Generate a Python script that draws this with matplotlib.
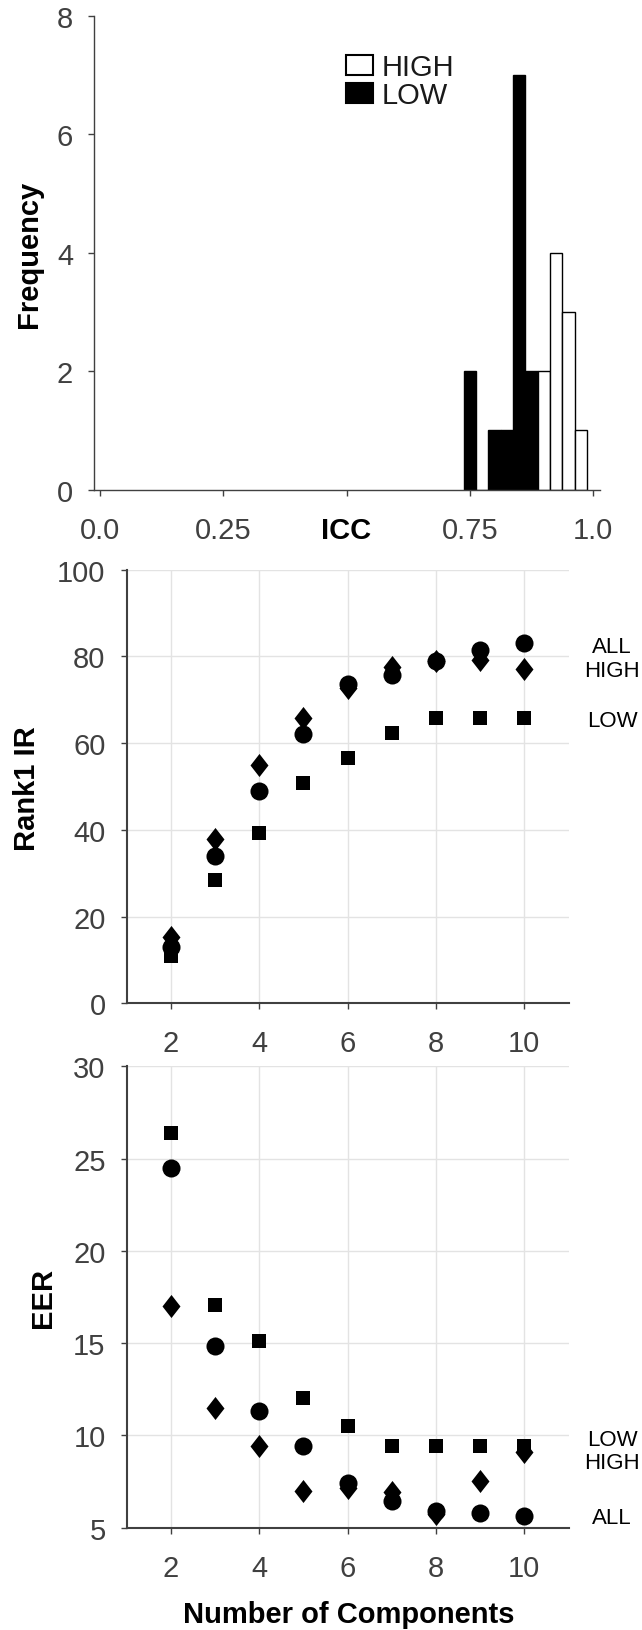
import matplotlib
matplotlib.use("Agg")
import matplotlib.pyplot as plt
from matplotlib.patches import Patch
from matplotlib.path import Path
import matplotlib.transforms as mtransforms

plt.rcParams['font.family'] = ['Liberation Sans', 'DejaVu Sans']

# ---------------- data ----------------
icc_ticks = [0.0, 0.25, 0.5, 0.75, 1.0]
icc_ticklabels = ["0.0", "0.25", "ICC", "0.75", "1.0"]
freq_ticks = [0, 2, 4, 6, 8]
bin_width = 0.025
low_centers = [0.75, 0.775, 0.80, 0.825, 0.85, 0.875]
low_counts = [2, 0, 1, 1, 7, 2]
high_centers = [0.90, 0.925, 0.95, 0.975]
high_counts = [2, 4, 3, 1]

n_components = [2, 3, 4, 5, 6, 7, 8, 9, 10]
rank1_all = [12.9, 34.0, 49.0, 62.2, 73.7, 75.6, 79.0, 81.5, 83.0]
rank1_high = [15.3, 37.8, 54.9, 65.9, 72.8, 77.5, 78.9, 79.2, 77.2]
rank1_low = [11.0, 28.4, 39.3, 50.8, 56.5, 62.4, 65.8, 65.8, 65.8]

eer_all = [24.5, 14.85, 11.32, 9.41, 7.42, 6.44, 5.88, 5.78, 5.62]
eer_high = [17.0, 11.47, 9.41, 6.99, 7.16, 6.95, 5.75, 7.53, 9.12]
eer_low = [26.39, 17.05, 15.12, 12.04, 10.5, 9.4, 9.4, 9.4, 9.4]

x_ticks = [2, 4, 6, 8, 10]
rank_ticks = [0, 20, 40, 60, 80, 100]
eer_ticks = [5, 10, 15, 20, 25, 30]

# ---------------- style ----------------
W, H = 642, 1631
fig = plt.figure(figsize=(W / 100, H / 100), dpi=100)
GRAY = '#404040'
TICKFS = 21
LABFS = 21

def px_axes(left, top, right, bottom):
    return fig.add_axes([left / W, 1 - bottom / H, (right - left) / W, (bottom - top) / H])

def style(ax, lw):
    for s in ['top', 'right']:
        ax.spines[s].set_visible(False)
    for s in ['left', 'bottom']:
        ax.spines[s].set_color(GRAY)
        ax.spines[s].set_linewidth(lw)
    ax.tick_params(axis='both', direction='out', length=4.3, width=1.0,
                   color=GRAY, labelcolor=GRAY, labelsize=TICKFS)
    ax.tick_params(axis='x', pad=14.5)
    ax.tick_params(axis='y', pad=11)

# ---------------- top: histogram ----------------
ax1 = px_axes(94.3, 16.7, 600, 490.7)
ax1.bar(low_centers, low_counts, width=bin_width, color='black', edgecolor='black', linewidth=1.0, zorder=2)
ax1.bar(high_centers, high_counts, width=bin_width, color='white', edgecolor='black', linewidth=1.0, zorder=2)
ax1.set_xlim(-0.0116, 1.0142)
ax1.set_ylim(0, 8)
style(ax1, 1.0)
ax1.set_xticks(icc_ticks)
ax1.set_xticklabels(icc_ticklabels)
ax1.set_yticks(freq_ticks)
lab = ax1.get_xticklabels()[2]
lab.set_fontweight('bold')
lab.set_color('black')
handles = [Patch(facecolor='white', edgecolor='black', linewidth=1.5),
           Patch(facecolor='black', edgecolor='black', linewidth=1.5)]
leg = ax1.legend(handles, ['HIGH', 'LOW'], loc='upper left', bbox_to_anchor=(0.498, 0.921),
                 frameon=False, fontsize=21, handlelength=0.91, handleheight=0.65,
                 handletextpad=0.3, labelspacing=0.0, borderpad=0, borderaxespad=0)
for t in leg.get_texts():
    t.set_color('#1a1a1a')

fig.text(29 / W, 1 - 254 / H, 'Frequency', rotation=90, ha='center', va='center',
         fontsize=LABFS, fontweight='bold', color='black')

# ---------------- marker shapes ----------------
diamond = Path([(0, 1), (0.78, 0), (0, -1), (-0.78, 0), (0, 1)],
               [Path.MOVETO, Path.LINETO, Path.LINETO, Path.LINETO, Path.CLOSEPOLY])

def scatter_panel(ax, low, high, allv):
    ax.plot(n_components, low, linestyle='none', marker='s', markersize=10.4,
            color='black', markeredgewidth=0, zorder=3)
    ax.plot(n_components, high, linestyle='none', marker=diamond, markersize=16.6,
            color='black', markeredgewidth=0, zorder=4)
    ax.plot(n_components, allv, linestyle='none', marker='o', markersize=13,
            color='black', markeredgewidth=0, zorder=5)
    ax.set_xlim(1, 11)
    ax.set_xticks(x_ticks)
    ax.grid(True, color='#e3e3e3', linewidth=1.0, zorder=0)
    ax.set_axisbelow(True)

def side_labels(ax, labels, ys):
    tr = mtransforms.blended_transform_factory(ax.transAxes, ax.transData)
    for t, y in zip(labels, ys):
        ax.text(1.0985, y, t, transform=tr, ha='center', va='center', fontsize=16,
                color='black', clip_on=False)

# ---------------- middle: Rank1 IR ----------------
ax2 = px_axes(126.8, 570.7, 568.5, 1004.3)
scatter_panel(ax2, rank1_low, rank1_high, rank1_all)
ax2.set_ylim(0, 100)
ax2.set_yticks(rank_ticks)
style(ax2, 1.5)
side_labels(ax2, ['ALL', 'HIGH', 'LOW'], [82.2, 76.8, 65.2])
fig.text(26.7 / W, 1 - 789 / H, 'Rank1 IR', rotation=90, ha='center', va='center',
         fontsize=LABFS, fontweight='bold', color='black')

# ---------------- bottom: EER ----------------
ax3 = px_axes(126.8, 1067.3, 568.5, 1528.6)
scatter_panel(ax3, eer_low, eer_high, eer_all)
ax3.set_ylim(5, 30)
ax3.set_yticks(eer_ticks)
style(ax3, 1.5)
side_labels(ax3, ['LOW', 'HIGH', 'ALL'], [9.78, 8.51, 5.53])
fig.text(43 / W, 1 - 1297.6 / H, 'EER', rotation=90, ha='center', va='center',
         fontsize=LABFS, fontweight='bold', color='black')
fig.text(349 / W, 1 - 1614.6 / H, 'Number of Components', ha='center', va='center',
         fontsize=LABFS, fontweight='bold', color='black')

fig.savefig('out.png', dpi=100)
